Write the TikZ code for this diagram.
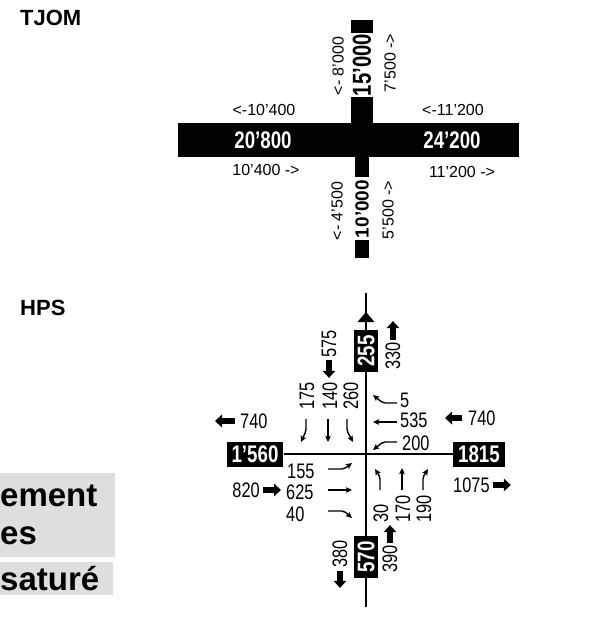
\documentclass[tikz,border=0pt]{standalone}
\usepackage{fontspec}
\setmainfont{Liberation Sans}
\newfontfamily\condfont{Liberation Sans}[FakeStretch=0.78]
\usetikzlibrary{arrows.meta,positioning}
\definecolor{ink}{HTML}{000000}
\definecolor{panelgray}{HTML}{DFDEDF}
\tikzset{
  lab/.style   ={inner sep=0pt,font=\fontsize{16}{18}\selectfont},
  vlab/.style  ={lab,rotate=90},
  bignum/.style={inner sep=0pt,text=white,font=\condfont\bfseries\fontsize{24}{26}\selectfont},
  cnt/.style   ={inner sep=0pt,font=\condfont\fontsize{21}{23}\selectfont},
  vcnt/.style  ={cnt,rotate=90},
  tag/.style   ={fill=ink,text=white,inner xsep=5pt,inner ysep=4pt,
                 font=\condfont\bfseries\fontsize{24}{26}\selectfont},
  road/.style  ={line width=2pt,draw=ink},
  turn/.style  ={-{Stealth[length=6pt,width=5.5pt,inset=1pt]},line width=1.4pt,rounded corners=2pt},
  fat/.style   ={-{Triangle[length=7pt,width=12.5pt]},line width=5.5pt},
  title/.style ={inner sep=0pt,anchor=base west,font=\bfseries\fontsize{22}{24}\selectfont},
  panel/.style ={inner sep=0pt,anchor=base west,font=\bfseries\fontsize{33}{36}\selectfont}
}

\begin{document}
\begin{tikzpicture}[x=1pt,y=-1pt]
    \useasboundingbox (0,0) rectangle (614,641);
    % TJOM cross
    \node[title] (tjom) at (20,25) {TJOM};
    \fill[ink] (178,123) rectangle (519,157);
    \fill[ink] (351,20) rectangle (373,33);
    \fill[ink] (351,97) rectangle (373,123);
    \fill[ink] (355,157) rectangle (369,177);
    \fill[ink] (355,240) rectangle (369,258);
    \node[bignum] (west) at (263,140) {20’800};
    \node[bignum] (east) at (452,140) {24’200};
    \node[bignum,rotate=90,text=ink,font=\condfont\bfseries\fontsize{26}{28}\selectfont] (north) at (362,65) {15’000};
    \node[bignum,rotate=90,text=ink,font=\bfseries\fontsize{19}{21}\selectfont] (south) at (362,209) {10’000};
    \node[lab] (wout) at (264,110) {<-10’400};
    \node[lab] (eout) at (453,110) {<-11’200};
    \node[lab] (win) at (266,170) {10’400 ->};
    \node[lab] (ein) at (462,172) {11’200 ->};
    \node[vlab] (nout) at (338,66) {<- 8’000};
    \node[vlab] (nin) at (390,63) {7’500 ->};
    \node[vlab] (sout) at (337,211) {<- 4’500};
    \node[vlab] (sin) at (388,210) {5’500 ->};
    % HPS junction
    \node[title] (hps) at (20,315) {HPS};
    \coordinate (ntop) at (366,293);
    \coordinate (nbot) at (366,607);
    \node[tag,rotate=90] (t255) at (366,351) {255};
    \node[tag,rotate=90] (t570) at (366,557) {570};
    \node[tag] (t1560) at (255,454) {1’560};
    \node[tag] (t1815) at (479,454) {1815};
    \draw[road] (ntop) -- (t255) -- (t570) -- (nbot);
    \draw[road] (t1560) -- (t1815);
    \fill[ink] (357.5,322) -- (374.5,322) -- (366,312) -- cycle;
    % counts
    \node[vcnt] (v575) at (329,344) {575};
    \node[vcnt] (v330) at (393,356) {330};
    \node[vcnt,anchor=west] (v175) at (307,410) {175};
    \node[vcnt,anchor=west] (v140) at (330,410) {140};
    \node[vcnt,anchor=west] (v260) at (351,410) {260};
    \node[cnt,anchor=west] (v5) at (400,400) {5};
    \node[cnt,anchor=west] (v535) at (400,420) {535};
    \node[cnt,anchor=west] (v200) at (402,443) {200};
    \node[cnt,anchor=west] (v740e) at (468,418) {740};
    \node[cnt,anchor=west] (v740w) at (240,421) {740};
    \node[cnt,anchor=west] (v155) at (287,471) {155};
    \node[cnt,anchor=west] (v625) at (286,492) {625};
    \node[cnt,anchor=west] (v40) at (286,514) {40};
    \node[cnt,anchor=east] (v820) at (260,490) {820};
    \node[vcnt,anchor=west] (v30) at (381,523) {30};
    \node[vcnt,anchor=west] (v170) at (403,523) {170};
    \node[vcnt,anchor=west] (v190) at (424,523) {190};
    \node[cnt,anchor=west] (v1075) at (453,485) {1075};
    \node[vcnt] (v380) at (340,554) {380};
    \node[vcnt] (v390) at (390,559) {390};
    % section totals
    \draw[fat] ([yshift=-2pt]v575.west) -- ++(0,18);
    \draw[fat] ([yshift=2pt]v330.east) -- ++(0,-19);
    \draw[fat] ([xshift=-6pt]v740e.west) -- ++(-17,0);
    \draw[fat] ([xshift=-5pt]v740w.west) -- ++(-20,0);
    \draw[fat] ([xshift=3pt]v820.east) -- ++(18,0);
    \draw[fat] ([xshift=3pt]v1075.east) -- ++(18,0);
    \draw[fat] ([yshift=-3pt]v380.west) -- ++(0,17);
    \draw[fat] ([yshift=2pt]v390.east) -- ++(0,-18);
    % turning movements
    \draw[turn] (306,419) -- (306,431) -- (301,442);
    \draw[turn] (328,419) -- (328,442);
    \draw[turn] (347,419) -- (347,431) -- (353,442);
    \draw[turn] (397,403) -- (383,403) -- (373,395);
    \draw[turn] (397,422) -- (373,422);
    \draw[turn] (397,442) -- (383,442) -- (373,450);
    \draw[turn] (328,469) -- (344,469) -- (352,463);
    \draw[turn] (328,490) -- (352,490);
    \draw[turn] (328,511) -- (344,511) -- (352,518);
    \draw[turn] (380,490) -- (380,477) -- (375,469);
    \draw[turn] (402,490) -- (402,468);
    \draw[turn] (423,490) -- (423,477) -- (428,469);
    % legend panels
    \fill[panelgray] (0,473) rectangle (115,557);
    \fill[panelgray] (0,562) rectangle (113,595);
    \node[panel] (p1) at (0,506) {ement};
    \node[panel] (p2) at (0,544) {es};
    \node[panel] (p3) at (0,590) {saturé};
  \end{tikzpicture}
\end{document}
